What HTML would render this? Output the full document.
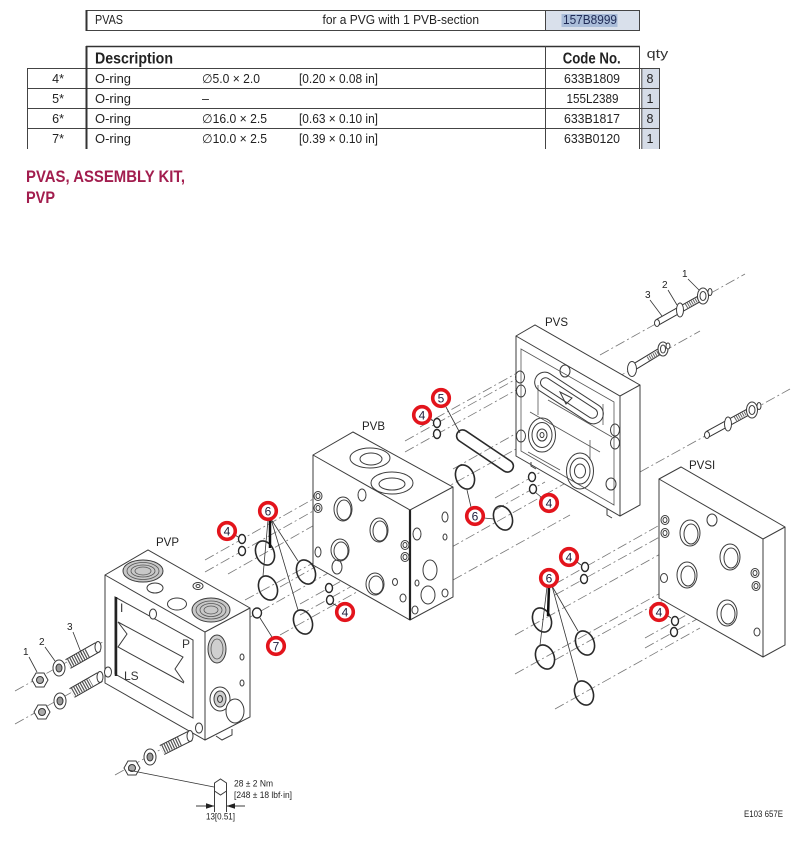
<!DOCTYPE html>
<html><head><meta charset="utf-8">
<style>
html,body{margin:0;padding:0;background:#fff;}
svg{display:block;}
text{font-family:"Liberation Sans",Arial,sans-serif;}
.c line{stroke:#777;stroke-width:.8;stroke-dasharray:10 3 2 3;fill:none}
.b{fill:#fff;stroke:#3c3c3c;stroke-width:1}
.d{fill:none;stroke:#3c3c3c;stroke-width:1}
.f{fill:none;stroke:#555;stroke-width:.8}
.h{fill:#fff;stroke:#3c3c3c;stroke-width:1}
.ring{fill:none;stroke:#2a2a2a;stroke-width:1.6}
.sr{fill:#fff;stroke:#2a2a2a;stroke-width:1.4}
.ld{stroke:#333;stroke-width:.8;fill:none}
.rc circle{fill:#fff;stroke:#e3141c;stroke-width:3.6}
.rc text{font-size:12px;text-anchor:middle;fill:#1e1e3c}
.lb{font-size:11.5px;fill:#222}
.tl{stroke:#444;stroke-width:1}
</style></head><body>
<svg width="791" height="841" viewBox="0 0 791 841" xmlns="http://www.w3.org/2000/svg">

<!-- ===== Table 1 ===== -->
<rect x="545" y="10" width="94" height="20" fill="#d9e0eb"/>
<rect x="561.5" y="14" width="56" height="13" fill="#aabdd9"/>
<line class="tl" x1="86" y1="10.5" x2="639.5" y2="10.5"/>
<line class="tl" x1="86" y1="30.5" x2="639.5" y2="30.5"/>
<line x1="86.5" y1="10" x2="86.5" y2="31" stroke="#333" stroke-width="2"/>
<line class="tl" x1="545.5" y1="10" x2="545.5" y2="31"/>
<line class="tl" x1="639.5" y1="10" x2="639.5" y2="31"/>
<text x="95" y="24" font-size="13" fill="#222" textLength="28" lengthAdjust="spacingAndGlyphs">PVAS</text>
<text x="322.5" y="24" font-size="13" fill="#222" textLength="156.5" lengthAdjust="spacingAndGlyphs">for a PVG with 1 PVB-section</text>
<text x="563" y="24" font-size="13" fill="#1f2a55" textLength="54" lengthAdjust="spacingAndGlyphs">157B8999</text>

<!-- ===== Table 2 ===== -->
<rect x="642" y="69" width="17" height="19" fill="#d5dce7"/>
<rect x="642" y="89" width="17" height="19" fill="#d5dce7"/>
<rect x="642" y="109" width="17" height="19" fill="#d5dce7"/>
<rect x="642" y="129" width="17" height="20" fill="#d5dce7"/>
<line x1="86" y1="46.5" x2="640" y2="46.5" stroke="#333" stroke-width="1.5"/>
<line class="tl" x1="27" y1="68.5" x2="660" y2="68.5"/>
<line class="tl" x1="27" y1="88.5" x2="660" y2="88.5"/>
<line class="tl" x1="27" y1="108.5" x2="660" y2="108.5"/>
<line class="tl" x1="27" y1="128.5" x2="660" y2="128.5"/>
<line class="tl" x1="27.5" y1="68" x2="27.5" y2="149"/>
<line x1="86.5" y1="46" x2="86.5" y2="149" stroke="#333" stroke-width="2"/>
<line class="tl" x1="545.5" y1="46" x2="545.5" y2="149"/>
<line class="tl" x1="639.5" y1="46" x2="639.5" y2="149"/>
<line class="tl" x1="641.8" y1="68" x2="641.8" y2="149"/>
<line class="tl" x1="659.5" y1="68" x2="659.5" y2="149"/>
<text x="95" y="63.3" font-size="15.5" font-weight="bold" fill="#222" textLength="78" lengthAdjust="spacingAndGlyphs">Description</text>
<text x="562.7" y="63.3" font-size="15.5" font-weight="bold" fill="#222" textLength="58" lengthAdjust="spacingAndGlyphs">Code No.</text>
<text x="646.7" y="58" font-size="13" fill="#333" textLength="21.5" lengthAdjust="spacingAndGlyphs">qty</text>
<g font-size="12.5" fill="#222">
<text x="64" y="83" text-anchor="end">4*</text>
<text x="64" y="103" text-anchor="end">5*</text>
<text x="64" y="123" text-anchor="end">6*</text>
<text x="64" y="143" text-anchor="end">7*</text>
<text x="95" y="83" textLength="36" lengthAdjust="spacingAndGlyphs">O-ring</text>
<text x="95" y="103" textLength="36" lengthAdjust="spacingAndGlyphs">O-ring</text>
<text x="95" y="123" textLength="36" lengthAdjust="spacingAndGlyphs">O-ring</text>
<text x="95" y="143" textLength="36" lengthAdjust="spacingAndGlyphs">O-ring</text>
<text x="202" y="83" textLength="58" lengthAdjust="spacingAndGlyphs">∅5.0 × 2.0</text>
<text x="202" y="103">–</text>
<text x="202" y="123" textLength="65" lengthAdjust="spacingAndGlyphs">∅16.0 × 2.5</text>
<text x="202" y="143" textLength="65" lengthAdjust="spacingAndGlyphs">∅10.0 × 2.5</text>
<text x="299" y="83" textLength="79" lengthAdjust="spacingAndGlyphs">[0.20 × 0.08 in]</text>
<text x="299" y="123" textLength="79" lengthAdjust="spacingAndGlyphs">[0.63 × 0.10 in]</text>
<text x="299" y="143" textLength="79" lengthAdjust="spacingAndGlyphs">[0.39 × 0.10 in]</text>
<text x="564" y="83" textLength="56" lengthAdjust="spacingAndGlyphs">633B1809</text>
<text x="566.5" y="103" textLength="52" lengthAdjust="spacingAndGlyphs">155L2389</text>
<text x="564" y="123" textLength="56" lengthAdjust="spacingAndGlyphs">633B1817</text>
<text x="564" y="143" textLength="56" lengthAdjust="spacingAndGlyphs">633B0120</text>
<text x="650" y="83" text-anchor="middle">8</text>
<text x="650" y="103" text-anchor="middle">1</text>
<text x="650" y="123" text-anchor="middle">8</text>
<text x="650" y="143" text-anchor="middle">1</text>
</g>

<!-- ===== Title ===== -->
<text x="26" y="182" font-size="16.5" font-weight="bold" fill="#a21d4e" textLength="159" lengthAdjust="spacingAndGlyphs">PVAS, ASSEMBLY KIT,</text>
<text x="26" y="203" font-size="16.5" font-weight="bold" fill="#a21d4e" textLength="29" lengthAdjust="spacingAndGlyphs">PVP</text>

<!-- ===== Centre lines ===== -->
<g class="c">
<line x1="15" y1="691" x2="153" y2="614"/>
<line x1="15" y1="724" x2="108" y2="672"/>
<line x1="115" y1="775" x2="199" y2="728"/>
<line x1="205" y1="560" x2="315" y2="498"/>
<line x1="205" y1="572" x2="315" y2="510"/>
<line x1="228" y1="574" x2="318" y2="523"/>
<line x1="245" y1="600" x2="313" y2="563"/>
<line x1="245" y1="620" x2="330" y2="572"/>
<line x1="280" y1="587" x2="345" y2="550"/>
<line x1="280" y1="635" x2="380" y2="579"/>
<line x1="300" y1="604" x2="404" y2="546"/>
<line x1="300" y1="615" x2="404" y2="557"/>
<line x1="405" y1="441" x2="518" y2="378"/>
<line x1="405" y1="452" x2="518" y2="389"/>
<line x1="453" y1="469" x2="540" y2="420"/>
<line x1="440" y1="491" x2="545" y2="433"/>
<line x1="450" y1="548" x2="580" y2="475"/>
<line x1="495" y1="498" x2="560" y2="461"/>
<line x1="495" y1="510" x2="545" y2="482"/>
<line x1="420" y1="427" x2="517" y2="373"/>
<line x1="453" y1="580" x2="570" y2="515"/>
<line x1="555" y1="584" x2="665" y2="522"/>
<line x1="555" y1="595" x2="665" y2="534"/>
<line x1="515" y1="635" x2="680" y2="543"/>
<line x1="515" y1="674" x2="700" y2="571"/>
<line x1="555" y1="660" x2="690" y2="585"/>
<line x1="555" y1="709" x2="700" y2="628"/>
<line x1="645" y1="638" x2="760" y2="574"/>
<line x1="645" y1="648" x2="760" y2="584"/>
<line x1="600" y1="355" x2="745" y2="274"/>
<line x1="600" y1="387" x2="700" y2="331"/>
<line x1="640" y1="472" x2="790" y2="389"/>
</g>

<!-- ===== PVP block ===== -->
<polygon class="b" points="105,575 148,550 250,608 250,717 205,740 105,683"/>
<polyline class="d" points="105,575 205,632 250,608"/>
<line class="d" x1="205" y1="632" x2="205" y2="740"/>
<ellipse cx="143" cy="571" rx="20" ry="11" fill="#c8c8c8" stroke="#3c3c3c"/>
<ellipse cx="143" cy="571" rx="16" ry="8.5" class="f"/>
<ellipse cx="143" cy="571" rx="12" ry="6" class="f"/>
<ellipse cx="143" cy="571" rx="8" ry="4" class="f"/>
<ellipse cx="211" cy="610" rx="19" ry="12" fill="#c8c8c8" stroke="#3c3c3c"/>
<ellipse cx="211" cy="610" rx="15" ry="9" class="f"/>
<ellipse cx="211" cy="610" rx="11" ry="6.5" class="f"/>
<ellipse cx="211" cy="610" rx="7" ry="4" class="f"/>
<ellipse cx="155" cy="588" rx="8" ry="5" class="d"/>
<ellipse cx="177" cy="604" rx="9.5" ry="6" class="d"/>
<ellipse cx="198" cy="586" rx="5" ry="3.5" class="d"/>
<ellipse cx="198" cy="586" rx="2" ry="1.5" class="d"/>
<polygon class="d" points="115,597 193,640 193,718 115,674"/>
<line x1="116" y1="597" x2="116" y2="676" stroke="#222" stroke-width="2.5"/>
<polyline class="d" points="118,622 183,657 175,669 184,682"/>
<polyline class="d" points="118,622 127,634 118,647 184,683"/>
<text x="120" y="612" font-size="12" fill="#333">I</text>
<text x="182" y="648" font-size="12" fill="#333">P</text>
<text x="124" y="680" font-size="12" fill="#333">LS</text>
<ellipse cx="153" cy="614" rx="3.5" ry="5" class="h"/>
<ellipse cx="108" cy="672" rx="3.5" ry="5" class="h"/>
<ellipse cx="199" cy="728" rx="3.5" ry="5" class="h"/>
<ellipse cx="217" cy="649" rx="9" ry="14" fill="#cfcfcf" stroke="#3c3c3c"/>
<ellipse cx="217" cy="649" rx="6" ry="10" class="f"/>
<ellipse cx="220" cy="699" rx="10" ry="12" class="h"/>
<ellipse cx="220" cy="699" rx="6" ry="8" fill="#d0d0d0" stroke="#3c3c3c"/>
<ellipse cx="220" cy="699" rx="2.5" ry="3.5" class="d"/>
<ellipse cx="235" cy="711" rx="9" ry="12" class="h"/>
<ellipse cx="242" cy="657" rx="2" ry="3" class="d"/>
<ellipse cx="242" cy="683" rx="2" ry="3" class="d"/>
<polyline class="d" points="216,736 222,740 232,735 232,729"/>

<!-- ===== PVB block ===== -->
<polygon class="b" points="313,455 353,432 453,487 453,597 410,620 313,565"/>
<polyline class="d" points="313,455 410,510 453,487"/>
<line x1="410" y1="510" x2="410" y2="620" stroke="#222" stroke-width="2.2"/>
<ellipse cx="370" cy="458" rx="20" ry="10" class="d"/>
<ellipse cx="371" cy="459" rx="11" ry="6" class="d"/>
<ellipse cx="392" cy="483" rx="21" ry="11" class="d"/>
<ellipse cx="392" cy="484" rx="13" ry="6" class="d"/>
<ellipse cx="343" cy="509" rx="9" ry="12" class="d"/>
<ellipse cx="344" cy="510" rx="7" ry="10" class="d"/>
<ellipse cx="379" cy="530" rx="9" ry="12" class="d"/>
<ellipse cx="380" cy="531" rx="7" ry="10" class="d"/>
<ellipse cx="340" cy="550" rx="9" ry="11" class="d"/>
<ellipse cx="341" cy="551" rx="7" ry="9" class="d"/>
<ellipse cx="375" cy="584" rx="9" ry="11" class="d"/>
<ellipse cx="376" cy="585" rx="7" ry="9" class="d"/>
<ellipse cx="362" cy="495" rx="4" ry="6" class="d"/>
<ellipse cx="318" cy="552" rx="3" ry="5" class="d"/>
<ellipse cx="337" cy="567" rx="5" ry="7" class="d"/>
<ellipse cx="403" cy="598" rx="3" ry="4" class="d"/>
<ellipse cx="395" cy="582" rx="2.5" ry="3.5" class="d"/>
<ellipse cx="318" cy="496" rx="4" ry="4.5" class="d"/><ellipse cx="318" cy="496" rx="2" ry="2.5" class="d"/>
<ellipse cx="318" cy="508" rx="4" ry="4.5" class="d"/><ellipse cx="318" cy="508" rx="2" ry="2.5" class="d"/>
<ellipse cx="405" cy="545" rx="4" ry="4.5" class="d"/><ellipse cx="405" cy="545" rx="2" ry="2.5" class="d"/>
<ellipse cx="405" cy="557" rx="4" ry="4.5" class="d"/><ellipse cx="405" cy="557" rx="2" ry="2.5" class="d"/>
<ellipse cx="445" cy="517" rx="3" ry="5" class="d"/>
<ellipse cx="417" cy="534" rx="4" ry="6" class="d"/>
<ellipse cx="445" cy="537" rx="2" ry="3" class="d"/>
<ellipse cx="430" cy="570" rx="7" ry="10" class="d"/>
<ellipse cx="417" cy="583" rx="2" ry="3" class="d"/>
<ellipse cx="428" cy="595" rx="7" ry="9" class="d"/>
<ellipse cx="445" cy="593" rx="3" ry="4" class="d"/>
<ellipse cx="415" cy="610" rx="3" ry="4" class="d"/>

<!-- ===== PVS plate ===== -->
<polygon class="b" points="516,336 535,325 640,385 640,505 620,516 516,456"/>
<polyline class="d" points="516,336 620,396 640,385"/>
<line class="d" x1="620" y1="396" x2="620" y2="516"/>
<polygon class="f" points="521,349 614,402 614,505 521,451"/>
<line class="f" x1="530" y1="412" x2="600" y2="452"/>
<line class="f" x1="548" y1="400" x2="612" y2="437"/>
<line class="f" x1="528" y1="452" x2="560" y2="470"/>
<line class="f" x1="538" y1="385" x2="538" y2="415"/>
<line class="f" x1="590" y1="440" x2="590" y2="460"/>
<line class="f" x1="603" y1="404" x2="603" y2="425"/>
<g transform="rotate(33 569 398)">
<rect x="530" y="388" width="78" height="20" rx="10" class="d"/>
<rect x="536" y="393" width="66" height="10" rx="5" class="d"/>
</g>
<polygon class="d" points="560,392 572,398 566,404"/>
<ellipse cx="542" cy="435" rx="13.5" ry="17" class="d"/>
<ellipse cx="542" cy="435" rx="10" ry="12.5" class="d"/>
<ellipse cx="542" cy="435" rx="5" ry="6" class="d"/>
<ellipse cx="542" cy="435" rx="2" ry="2.5" class="d"/>
<ellipse cx="580" cy="471" rx="13.5" ry="18" class="d"/>
<ellipse cx="580" cy="471" rx="10" ry="13" class="d"/>
<ellipse cx="580" cy="471" rx="5.5" ry="7" class="d"/>
<ellipse cx="520" cy="377" rx="4.5" ry="6" class="d"/>
<ellipse cx="521" cy="391" rx="4.5" ry="6" class="d"/>
<ellipse cx="565" cy="371" rx="5" ry="6" class="d"/>
<ellipse cx="615" cy="430" rx="4.5" ry="6" class="d"/>
<ellipse cx="615" cy="443" rx="4.5" ry="6" class="d"/>
<ellipse cx="611" cy="484" rx="5" ry="6" class="d"/>
<ellipse cx="521" cy="436" rx="4.5" ry="6" class="d"/>
<polyline class="d" points="531,462 531,466 536,469"/>
<polyline class="d" points="607,509 607,515 612,518"/>

<!-- ===== PVSI plate ===== -->
<polygon class="b" points="659,479 681,467 785,527 785,645 763,657 659,598"/>
<polyline class="d" points="659,479 763,539 785,527"/>
<line class="d" x1="763" y1="539" x2="763" y2="657"/>
<ellipse cx="690" cy="533" rx="10" ry="13" class="d"/>
<ellipse cx="691" cy="534" rx="7" ry="10" class="d"/>
<ellipse cx="730" cy="557" rx="10" ry="13" class="d"/>
<ellipse cx="731" cy="558" rx="7" ry="10" class="d"/>
<ellipse cx="687" cy="575" rx="10" ry="13" class="d"/>
<ellipse cx="688" cy="576" rx="7" ry="10" class="d"/>
<ellipse cx="727" cy="613" rx="10" ry="13" class="d"/>
<ellipse cx="728" cy="614" rx="7" ry="10" class="d"/>
<ellipse cx="712" cy="520" rx="5" ry="6" class="d"/>
<ellipse cx="664" cy="578" rx="3.5" ry="4.5" class="d"/>
<ellipse cx="757" cy="632" rx="3" ry="4" class="d"/>
<ellipse cx="665" cy="520" rx="4" ry="4.5" class="d"/><ellipse cx="665" cy="520" rx="2" ry="2.5" class="d"/>
<ellipse cx="665" cy="533" rx="4" ry="4.5" class="d"/><ellipse cx="665" cy="533" rx="2" ry="2.5" class="d"/>
<ellipse cx="755" cy="573" rx="4" ry="4.5" class="d"/><ellipse cx="755" cy="573" rx="2" ry="2.5" class="d"/>
<ellipse cx="756" cy="586" rx="4" ry="4.5" class="d"/><ellipse cx="756" cy="586" rx="2" ry="2.5" class="d"/>

<!-- ===== Top-right bolts ===== -->
<g>
<line x1="658" y1="322" x2="706" y2="295" stroke="#333" stroke-width="7"/>
<line x1="658" y1="322" x2="706" y2="295" stroke="#fff" stroke-width="5"/>
<line x1="686" y1="306" x2="698" y2="299" stroke="#666" stroke-width="5" stroke-dasharray="1 1.2"/>
<ellipse cx="657" cy="323" rx="2.5" ry="3.5" class="h"/>
<ellipse cx="680" cy="310" rx="3.5" ry="7" class="h"/>
<ellipse cx="703" cy="296" rx="5.5" ry="8" class="h"/>
<ellipse cx="703" cy="296" rx="3" ry="4.5" class="d"/>
<ellipse cx="710" cy="292" rx="2" ry="3.5" class="h"/>

<line x1="634" y1="367" x2="662" y2="350" stroke="#333" stroke-width="7"/>
<line x1="634" y1="367" x2="662" y2="350" stroke="#fff" stroke-width="5"/>
<line x1="648" y1="359" x2="660" y2="352" stroke="#666" stroke-width="5" stroke-dasharray="1 1.2"/>
<ellipse cx="632" cy="369" rx="4.5" ry="7.5" class="h"/>
<ellipse cx="663" cy="349" rx="5" ry="7" class="h"/>
<ellipse cx="663" cy="349" rx="2.5" ry="4" class="d"/>
<ellipse cx="668" cy="346" rx="2" ry="3" class="h"/>

<line x1="708" y1="434" x2="750" y2="411" stroke="#333" stroke-width="7"/>
<line x1="708" y1="434" x2="750" y2="411" stroke="#fff" stroke-width="5"/>
<line x1="735" y1="419" x2="747" y2="412" stroke="#666" stroke-width="5" stroke-dasharray="1 1.2"/>
<ellipse cx="707" cy="435" rx="2.5" ry="3.5" class="h"/>
<ellipse cx="728" cy="424" rx="3.5" ry="7" class="h"/>
<ellipse cx="752" cy="410" rx="5.5" ry="8" class="h"/>
<ellipse cx="752" cy="410" rx="3" ry="4.5" class="d"/>
<ellipse cx="759" cy="406" rx="2" ry="3.5" class="h"/>
</g>
<g font-size="10" fill="#222">
<text x="682" y="277">1</text>
<text x="662" y="288">2</text>
<text x="645" y="298">3</text>
</g>
<line class="ld" x1="688" y1="279" x2="699" y2="290"/>
<line class="ld" x1="668" y1="290" x2="677" y2="305"/>
<line class="ld" x1="650" y1="300" x2="662" y2="316"/>

<!-- ===== Left bolts ===== -->
<g>
<line x1="68" y1="664" x2="98" y2="647" stroke="#333" stroke-width="11"/>
<line x1="68" y1="664" x2="98" y2="647" stroke="#fff" stroke-width="9"/>
<line x1="69" y1="663" x2="88" y2="653" stroke="#555" stroke-width="9" stroke-dasharray="1.2 1.3"/>
<ellipse cx="98" cy="647" rx="3" ry="5.5" class="h"/>
<ellipse cx="59" cy="668" rx="6" ry="8" class="h"/>
<ellipse cx="59" cy="668" rx="3" ry="4" fill="#999" stroke="#333"/>
<polygon class="h" points="48,680 44,673 36,673 32,680 36,687 44,687"/>
<circle cx="40" cy="680" r="3.5" fill="#aaa" stroke="#333"/>

<line x1="72" y1="693" x2="100" y2="677" stroke="#333" stroke-width="11"/>
<line x1="72" y1="693" x2="100" y2="677" stroke="#fff" stroke-width="9"/>
<line x1="73" y1="692" x2="91" y2="682" stroke="#555" stroke-width="9" stroke-dasharray="1.2 1.3"/>
<ellipse cx="100" cy="677" rx="3" ry="5.5" class="h"/>
<ellipse cx="60" cy="701" rx="6" ry="8" class="h"/>
<ellipse cx="60" cy="701" rx="3" ry="4" fill="#999" stroke="#333"/>
<polygon class="h" points="50,712 46,705 38,705 34,712 38,719 46,719"/>
<circle cx="42" cy="712" r="3.5" fill="#aaa" stroke="#333"/>

<line x1="162" y1="750" x2="190" y2="736" stroke="#333" stroke-width="11"/>
<line x1="162" y1="750" x2="190" y2="736" stroke="#fff" stroke-width="9"/>
<line x1="163" y1="749" x2="180" y2="741" stroke="#555" stroke-width="9" stroke-dasharray="1.2 1.3"/>
<ellipse cx="190" cy="736" rx="3" ry="5.5" class="h"/>
<ellipse cx="150" cy="757" rx="6" ry="8" class="h"/>
<ellipse cx="150" cy="757" rx="3" ry="4" fill="#999" stroke="#333"/>
<polygon class="h" points="140,768 136,761 128,761 124,768 128,775 136,775"/>
<circle cx="132" cy="768" r="3.5" fill="#aaa" stroke="#333"/>
</g>
<g font-size="10" fill="#222">
<text x="23" y="655">1</text>
<text x="39" y="645">2</text>
<text x="67" y="630">3</text>
</g>
<line class="ld" x1="29" y1="657" x2="37" y2="672"/>
<line class="ld" x1="45" y1="647" x2="55" y2="661"/>
<line class="ld" x1="73" y1="632" x2="82" y2="655"/>

<!-- ===== Torque annotation ===== -->
<line class="ld" x1="128" y1="770" x2="214" y2="787"/>
<polyline class="d" points="214.5,812 214.5,783 220.5,779 226.5,783 226.5,812"/>
<polyline class="d" points="214.5,791 220.5,795 226.5,791"/>
<line class="d" x1="196" y1="806" x2="214" y2="806"/>
<polygon points="214.5,806 206,803.3 206,808.7" fill="#222"/>
<line class="d" x1="227" y1="806" x2="245" y2="806"/>
<polygon points="226.5,806 235,803.3 235,808.7" fill="#222"/>
<text x="234" y="786.5" font-size="9.5" fill="#222" textLength="39" lengthAdjust="spacingAndGlyphs">28 ± 2 Nm</text>
<text x="234" y="798" font-size="9.5" fill="#222" textLength="58" lengthAdjust="spacingAndGlyphs">[248 ± 18 lbf·in]</text>
<text x="206" y="819.5" font-size="9.5" fill="#222" textLength="29" lengthAdjust="spacingAndGlyphs">13[0.51]</text>
<text x="744" y="817" font-size="9.5" fill="#222" textLength="39" lengthAdjust="spacingAndGlyphs">E103 657E</text>

<!-- ===== O-rings ===== -->
<g>
<ellipse class="sr" cx="242" cy="539" rx="3.5" ry="4.5"/>
<ellipse class="sr" cx="242" cy="551" rx="3.5" ry="4.5"/>
<ellipse class="ring" cx="265" cy="553" rx="9" ry="12.5" transform="rotate(-22 265 553)"/>
<ellipse class="ring" cx="268" cy="588" rx="9" ry="12.5" transform="rotate(-22 268 588)"/>
<ellipse class="ring" cx="306" cy="572" rx="9" ry="12.5" transform="rotate(-22 306 572)"/>
<ellipse class="ring" cx="303" cy="622" rx="9" ry="12.5" transform="rotate(-22 303 622)"/>
<ellipse class="sr" cx="257" cy="613" rx="4.5" ry="5"/>
<ellipse class="sr" cx="329" cy="588" rx="3.5" ry="4.5"/>
<ellipse class="sr" cx="330" cy="600" rx="3.5" ry="4.5"/>

<ellipse class="sr" cx="437" cy="423" rx="3.5" ry="4.5"/>
<ellipse class="sr" cx="437" cy="434" rx="3.5" ry="4.5"/>
<rect class="ring" x="452" y="445" width="66" height="12" rx="6" transform="rotate(34 485 451)"/>
<ellipse class="ring" cx="465" cy="477" rx="9" ry="12.5" transform="rotate(-22 465 477)"/>
<ellipse class="ring" cx="503" cy="518" rx="9" ry="12.5" transform="rotate(-22 503 518)"/>
<ellipse class="sr" cx="532" cy="477" rx="3.5" ry="4.5"/>
<ellipse class="sr" cx="533" cy="489" rx="3.5" ry="4.5"/>

<ellipse class="sr" cx="585" cy="567" rx="3.5" ry="4.5"/>
<ellipse class="sr" cx="584" cy="579" rx="3.5" ry="4.5"/>
<ellipse class="ring" cx="542" cy="620" rx="9" ry="12.5" transform="rotate(-22 542 620)"/>
<ellipse class="ring" cx="545" cy="657" rx="9" ry="12.5" transform="rotate(-22 545 657)"/>
<ellipse class="ring" cx="585" cy="643" rx="9" ry="12.5" transform="rotate(-22 585 643)"/>
<ellipse class="ring" cx="584" cy="693" rx="9" ry="12.5" transform="rotate(-22 584 693)"/>
<ellipse class="sr" cx="675" cy="621" rx="3.5" ry="4.5"/>
<ellipse class="sr" cx="674" cy="632" rx="3.5" ry="4.5"/>
</g>

<!-- ===== Leaders for callouts ===== -->
<g class="ld">
<line x1="446" y1="407" x2="460" y2="433"/>
<line x1="430" y1="418" x2="433" y2="421"/>
<line x1="541" y1="497" x2="535" y2="492"/>
<line x1="471" y1="507" x2="467" y2="490"/>
<line x1="484" y1="518" x2="494" y2="519"/>
<line x1="268" y1="520" x2="263" y2="576"/>
<line x1="271" y1="519" x2="298" y2="561"/>
<line x1="271" y1="519" x2="298" y2="610"/>
<line x1="235" y1="535" x2="238" y2="537"/>
<line x1="337" y1="606" x2="332" y2="603"/>
<line x1="272" y1="637" x2="260" y2="618"/>
<line x1="577" y1="562" x2="581" y2="565"/>
<line x1="547" y1="587" x2="540" y2="645"/>
<line x1="552" y1="586" x2="578" y2="631"/>
<line x1="552" y1="586" x2="578" y2="681"/>
<line x1="668" y1="616" x2="671" y2="618"/>
</g>
<line x1="270" y1="519" x2="270" y2="548" stroke="#111" stroke-width="2.5"/>
<line x1="549" y1="586" x2="548" y2="616" stroke="#111" stroke-width="2.5"/>

<!-- ===== Labels ===== -->
<text class="lb" x="545" y="326">PVS</text>
<text class="lb" x="362" y="430">PVB</text>
<text class="lb" x="156" y="546">PVP</text>
<text class="lb" x="689" y="469">PVSI</text>

<!-- ===== Red callouts ===== -->
<g class="rc"><circle cx="441" cy="398" r="8.3"/><text x="441" y="402.3">5</text></g>
<g class="rc"><circle cx="422" cy="415" r="8.3"/><text x="422" y="419.3">4</text></g>
<g class="rc"><circle cx="549" cy="503" r="8.3"/><text x="549" y="507.3">4</text></g>
<g class="rc"><circle cx="475" cy="516" r="8.3"/><text x="475" y="520.3">6</text></g>
<g class="rc"><circle cx="268" cy="511" r="8.3"/><text x="268" y="515.3">6</text></g>
<g class="rc"><circle cx="227" cy="531" r="8.3"/><text x="227" y="535.3">4</text></g>
<g class="rc"><circle cx="345" cy="612" r="8.3"/><text x="345" y="616.3">4</text></g>
<g class="rc"><circle cx="276" cy="646" r="8.3"/><text x="276" y="650.3">7</text></g>
<g class="rc"><circle cx="569" cy="557" r="8.3"/><text x="569" y="561.3">4</text></g>
<g class="rc"><circle cx="549" cy="578" r="8.3"/><text x="549" y="582.3">6</text></g>
<g class="rc"><circle cx="659" cy="612" r="8.3"/><text x="659" y="616.3">4</text></g>

</svg>
</body></html>
